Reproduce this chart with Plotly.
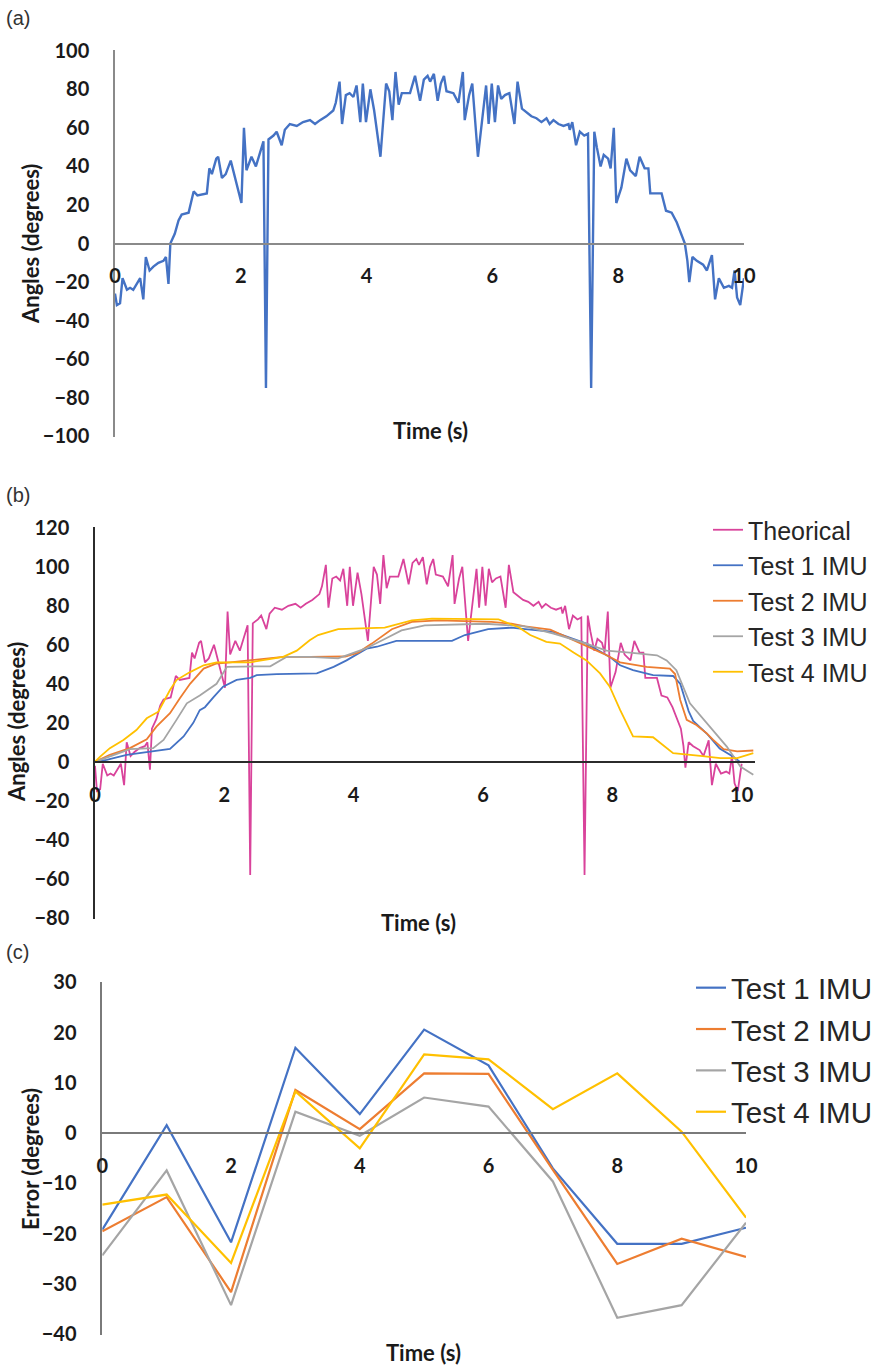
import plotly.graph_objects as go

W, H = 890, 1365

# ---------------- Panel (a) data ----------------
t_a = [
    0.00, 0.03, 0.08, 0.12, 0.19, 0.24, 0.29, 0.34, 0.40, 0.45,
    0.49, 0.55, 0.61, 0.69, 0.77, 0.81, 0.85, 0.88, 0.95, 1.01,
    1.06, 1.17, 1.25, 1.31, 1.46, 1.50, 1.54, 1.61, 1.64, 1.70,
    1.76, 1.84, 1.93, 2.01, 2.05, 2.09, 2.17, 2.24, 2.36, 2.40,
    2.44, 2.52, 2.57, 2.65, 2.70, 2.78, 2.89, 2.99, 3.10, 3.18,
    3.26, 3.36, 3.47, 3.51, 3.57, 3.61, 3.67, 3.73, 3.79, 3.84,
    3.90, 3.94, 3.99, 4.06, 4.12, 4.22, 4.31, 4.36, 4.41, 4.46,
    4.51, 4.56, 4.69, 4.77, 4.85, 4.91, 4.97, 5.01, 5.07, 5.13,
    5.18, 5.23, 5.27, 5.38, 5.46, 5.53, 5.56, 5.63, 5.68, 5.77,
    5.90, 5.94, 5.99, 6.04, 6.09, 6.14, 6.20, 6.27, 6.35, 6.40,
    6.47, 6.55, 6.62, 6.70, 6.78, 6.86, 6.91, 6.97, 7.05, 7.13,
    7.21, 7.23, 7.27, 7.33, 7.39, 7.46, 7.52, 7.57, 7.62, 7.66,
    7.72, 7.77, 7.84, 7.88, 7.93, 7.97, 8.05, 8.13, 8.19, 8.28,
    8.34, 8.42, 8.48, 8.51, 8.60, 8.69, 8.76, 8.85, 8.93, 9.01,
    9.06, 9.10, 9.13, 9.18, 9.25, 9.35, 9.41, 9.49, 9.54, 9.60,
    9.68, 9.76, 9.81, 9.85, 9.89, 9.94, 10.00]
angle_a = [
    -26, -32, -31, -18, -24, -23, -24, -21, -18, -29,
    -7, -14, -12, -10, -9, -7, -21, 0, 5, 12,
    15, 16, 27, 25, 26, 39, 36, 44, 45, 34,
    36, 43, 31, 21, 60, 38, 45, 40, 53, -75,
    54, 56, 58, 51, 59, 62, 61, 63, 64, 62,
    64, 66, 69, 73, 84, 62, 77, 78, 76, 82,
    63, 83, 63, 80, 69, 45, 83, 79, 64, 89,
    72, 78, 78, 87, 74, 85, 87, 84, 88, 74,
    83, 87, 79, 78, 73, 89, 64, 77, 83, 45,
    82, 62, 83, 63, 82, 75, 77, 78, 62, 84,
    70, 68, 66, 65, 63, 65, 62, 64, 62, 61,
    62, 59, 63, 51, 58, 56, 57, -75, 58, 50,
    40, 46, 44, 39, 60, 21, 29, 44, 38, 35,
    45, 39, 39, 26, 26, 26, 17, 16, 11, 4,
    0, -9, -20, -7, -9, -11, -14, -6, -29, -18,
    -23, -22, -23, -14, -28, -32, -18]

# ---------------- Panel (b) data ----------------
t_theorical = t_a
theorical_b = [
    -2, -15, -14, -1, -7, -6, -7, -4, -1, -12,
    10, 3, 5, 7, 8, 10, -4, 17, 22, 29,
    32, 33, 44, 42, 43, 56, 53, 61, 62, 51,
    53, 60, 48, 38, 77, 55, 62, 57, 70, -58,
    71, 73, 75, 68, 76, 79, 78, 80, 81, 79,
    81, 83, 86, 90, 101, 79, 94, 95, 93, 99,
    80, 100, 80, 97, 86, 62, 100, 96, 81, 106,
    89, 95, 95, 104, 91, 102, 104, 101, 105, 91,
    100, 104, 96, 95, 90, 106, 81, 94, 100, 62,
    99, 79, 100, 80, 99, 92, 94, 95, 79, 101,
    87, 85, 83, 82, 80, 82, 79, 81, 79, 78,
    79, 76, 80, 68, 75, 73, 74, -58, 75, 67,
    57, 63, 61, 56, 77, 38, 46, 61, 55, 52,
    62, 56, 56, 43, 43, 43, 34, 33, 28, 21,
    17, 8, -3, 10, 8, 6, 3, 11, -12, -1,
    -6, -5, -6, 3, -11, -15, -1]

t_test1 = [0, 0.18, 0.49, 1.16, 1.37, 1.52, 1.62, 1.70, 1.83, 1.98, 2.19, 2.40,
           2.50, 2.81, 3.43, 3.69, 3.89, 4.20, 4.36, 4.66, 5.52, 5.72, 6.08,
           6.44, 6.65, 7.09, 7.60, 7.96, 8.12, 8.32, 8.63, 8.94, 9.05, 9.18,
           9.25, 9.46, 9.66, 9.87, 9.97, 10.18]
test1_b = [0, 1, 3.5, 6.6, 13, 20, 26.5, 28, 33, 38.5, 42, 43,
           44.4, 45, 45.3, 48.7, 52, 58, 59, 62, 62, 65, 68,
           68.8, 68, 66.6, 60.6, 53.8, 49.5, 47, 44.4, 44, 40, 26,
           21, 14.5, 6.8, 2.6, 0, 0]

t_test2 = [0, 0.23, 0.54, 0.80, 0.95, 1.16, 1.31, 1.47, 1.68, 1.88, 2.09, 2.40,
           2.91, 3.32, 3.87, 4.07, 4.28, 4.59, 4.90, 5.31, 6.13, 6.44, 6.65,
           7.04, 7.35, 7.86, 8.12, 8.53, 8.89, 8.97, 9.05, 9.15, 9.30, 9.46,
           9.56, 9.72, 9.93, 10.18]
test2_b = [0, 3.6, 7, 11.6, 18, 24.9, 32.5, 40, 47.8, 50.4, 51, 52,
           53.8, 53.8, 54, 56, 60.6, 68, 71.7, 72.5, 71.7, 70.8, 69.5,
           67.8, 63, 55.5, 51, 48.7, 47.8, 45, 31.7, 21.5, 18.9, 14.6,
           11.2, 6.5, 5.3, 5.8]

t_test3 = [0, 0.23, 0.54, 0.90, 1.06, 1.26, 1.42, 1.62, 1.88, 2.04, 2.40, 2.71,
           2.96, 3.32, 3.76, 4.18, 4.48, 4.74, 5.10, 6.03, 6.65, 7.09, 7.60,
           7.91, 8.27, 8.69, 8.84, 8.99, 9.20, 9.46, 9.77, 9.98, 10.18]
test3_b = [0, 2.7, 6.5, 7, 11.2, 21.5, 30, 34, 40, 48.7, 48.7, 49,
           53.8, 53.8, 53, 58, 63, 67.4, 70, 70.8, 69.5, 65.7, 60.6,
           57, 56, 54.6, 52, 47, 30, 19.7, 7.8, -2.4, -6.6]

t_test4 = [0, 0.08, 0.23, 0.44, 0.64, 0.80, 0.98, 1.16, 1.26, 1.47, 1.68, 1.88,
           2.40, 2.91, 3.12, 3.32, 3.45, 3.76, 4.48, 4.90, 5.21, 6.24, 6.55,
           6.73, 6.98, 7.19, 7.40, 7.60, 7.81, 7.96, 8.12, 8.32, 8.63, 8.94,
           9.36, 9.67, 9.93, 10.18]
test4_b = [0, 2.7, 7, 11.2, 16.3, 22.3, 25.7, 36.8, 41.9, 46, 49.5, 51,
           51, 53.8, 57, 62.3, 65, 68, 68.8, 72.5, 73.4, 73, 69,
           65, 61.5, 60.6, 56, 52, 45.3, 38.5, 26.6, 13, 12.6, 4.4,
           3, 1.9, 1.9, 4.4]

# ---------------- Panel (c) data ----------------
t_c = [0, 1, 2, 3, 4, 5, 6, 7, 8, 9, 10]
err_test1 = [-19.2, 1.6, -21.7, 17.0, 3.8, 20.6, 13.5, -7.0, -22.0, -22.0, -18.8]
err_test2 = [-19.5, -12.7, -31.6, 8.6, 0.8, 11.9, 11.8, -7.3, -26.0, -21.0, -24.6]
err_test3 = [-24.3, -7.4, -34.2, 4.3, -0.5, 7.1, 5.3, -9.6, -36.7, -34.2, -17.8]
err_test4 = [-14.2, -12.2, -25.8, 8.3, -3.0, 15.7, 14.7, 4.8, 11.9, 0.3, -16.8]

names = ["Test 1 IMU", "Test 2 IMU", "Test 3 IMU", "Test 4 IMU"]
colors = ["#4472C4", "#ED7D31", "#A5A5A5", "#FFC000"]
theo_color = "#D9439B"

# ---------------- Layout helpers ----------------
def xdom(left_px, right_px):
    return [left_px / W, right_px / W]

def ydom(top_px, bottom_px):
    return [1 - bottom_px / H, 1 - top_px / H]

def zero_pos(dom, rng):
    return dom[0] + (0 - rng[0]) / (rng[1] - rng[0]) * (dom[1] - dom[0])

tick_font = dict(family="Lato", size=20, color="#1a1a1a", weight="bold")
title_font = dict(family="Lato", size=22, color="#1a1a1a", weight="bold")

panels = [
    # name, x px (left,right), y px (top,bottom), x range, y range, y dtick, axis color
    ("a", (115, 744), (50, 437), [0, 10], [-100, 100], 20, "#8a8a8a"),
    ("b", (95, 754.6), (527, 918.6), [0, 10.2], [-80, 120], 20, "#2b2b2b"),
    ("c", (102.3, 746), (981.7, 1335), [0, 10], [-40, 30], 10, "#7a7a7a"),
]

fig = go.Figure()

# panel a
fig.add_trace(go.Scatter(x=t_a, y=angle_a, mode="lines", showlegend=False,
                         line=dict(color="#4472C4", width=2.4), xaxis="x", yaxis="y"))
# panel b
fig.add_trace(go.Scatter(x=t_theorical, y=theorical_b, mode="lines", name="Theorical",
                         line=dict(color=theo_color, width=1.8), xaxis="x2", yaxis="y2",
                         legend="legend"))
for nm, col, tx, vy in zip(names, colors, [t_test1, t_test2, t_test3, t_test4],
                           [test1_b, test2_b, test3_b, test4_b]):
    fig.add_trace(go.Scatter(x=tx, y=vy, mode="lines", name=nm,
                             line=dict(color=col, width=1.8), xaxis="x2", yaxis="y2",
                             legend="legend"))
# panel c
for nm, col, vy in zip(names, colors, [err_test1, err_test2, err_test3, err_test4]):
    fig.add_trace(go.Scatter(x=t_c, y=vy, mode="lines", name=nm,
                             line=dict(color=col, width=2.2), xaxis="x3", yaxis="y3",
                             legend="legend2"))

layout = dict(
    width=W, height=H,
    margin=dict(l=0, r=0, t=0, b=0, autoexpand=False),
    paper_bgcolor="white", plot_bgcolor="rgba(0,0,0,0)",
)

for i, (nm, xpx, ypx, xr, yr, ydt, acol) in enumerate(panels):
    sfx = "" if i == 0 else str(i + 1)
    xd = xdom(*xpx)
    yd = ydom(*ypx)
    pad = (yr[1] - yr[0]) * 0.002
    layout["xaxis" + sfx] = dict(
        domain=xd, range=xr, anchor="free", position=zero_pos(yd, yr),
        tick0=0, dtick=2, showline=True, linecolor=acol, linewidth=1.5,
        showgrid=False, zeroline=False, ticks="", tickfont=tick_font,
        ticklabelstandoff=15, automargin=False)
    layout["yaxis" + sfx] = dict(
        domain=yd, range=[yr[0] - pad, yr[1] + pad], anchor="x" + sfx,
        tick0=0, dtick=ydt, showline=True, linecolor=acol, linewidth=1.5,
        showgrid=False, zeroline=False, ticks="", tickfont=tick_font,
        ticklabelstandoff=20, automargin=False)

layout["legend"] = dict(
    x=708 / W, y=1 - 507 / H, xanchor="left", yanchor="top",
    bgcolor="rgba(0,0,0,0)", font=dict(family="Liberation Sans", size=25, color="#262626"),
    tracegroupgap=0, itemwidth=30)
layout["legend2"] = dict(
    x=691 / W, y=1 - 962 / H, xanchor="left", yanchor="top",
    bgcolor="rgba(0,0,0,0)", font=dict(family="Liberation Sans", size=29.5, color="#262626"),
    tracegroupgap=0, itemwidth=30)

annotations = []
# panel labels
for lbl, ypx in [("(a)", 18), ("(b)", 495), ("(c)", 952)]:
    annotations.append(dict(text=lbl, x=4 / W, y=1 - ypx / H, xref="paper", yref="paper",
                            xanchor="left", yanchor="middle", showarrow=False,
                            font=dict(family="Liberation Sans", size=20, color="#333333")))
# axis titles
for txt, xpx, ypx in [("Angles (degrees)", 30, 244), ("Angles (degrees)", 16, 722),
                      ("Error (degrees)", 30, 1159)]:
    annotations.append(dict(text=txt, x=xpx / W, y=1 - ypx / H, xref="paper", yref="paper",
                            xanchor="center", yanchor="middle", textangle=-90,
                            showarrow=False, font=title_font))
for xpx, ypx in [(430, 430), (418, 922), (423, 1352)]:
    annotations.append(dict(text="Time (s)", x=xpx / W, y=1 - ypx / H, xref="paper",
                            yref="paper", xanchor="center", yanchor="middle",
                            showarrow=False, font=title_font))
layout["annotations"] = annotations

fig.update_layout(**layout)
fig.write_html("out.html",
               config={"displayModeBar": False},
               post_script="document.body.style.margin='0px';"
                           "document.body.style.overflow='hidden';")
